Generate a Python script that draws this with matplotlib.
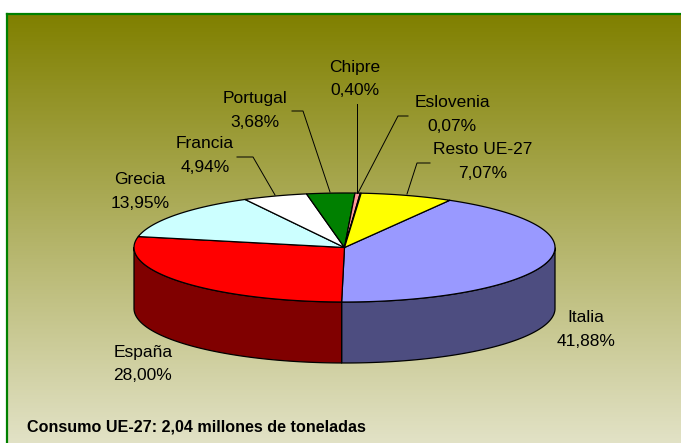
import numpy as np
import matplotlib
matplotlib.use("Agg")
import matplotlib.pyplot as plt
from matplotlib.patches import Polygon
from matplotlib.colors import to_rgb

# ---- data ----
countries = ["Italia", "España", "Grecia", "Francia", "Portugal", "Chipre", "Eslovenia", "Resto UE-27"]
shares = [41.88, 28.00, 13.95, 4.94, 3.68, 0.40, 0.07, 7.07]
share_labels = ["41,88%", "28,00%", "13,95%", "4,94%", "3,68%", "0,40%", "0,07%", "7,07%"]
colors = ["#9999FF", "#FF0000", "#CCFFFF", "#FFFFFF", "#008000", "#FF9999", "#FF9933", "#FFFF00"]
footer = "Consumo UE-27: 2,04 millones de toneladas"

W, H = 681, 443
fig = plt.figure(figsize=(W / 100, H / 100), dpi=100)
ax = fig.add_axes([0, 0, 1, 1])
ax.set_xlim(0, W)
ax.set_ylim(H, 0)
ax.axis("off")
fig.patch.set_facecolor("white")

# background gradient
top_c = np.array([128, 128, 0]) / 255
bot_c = np.array([227, 227, 200]) / 255
n = 256
t = np.linspace(0, 1, n)[:, None]
grad = (top_c[None, :] * (1 - t) + bot_c[None, :] * t)[:, None, :]
ax.imshow(grad, extent=[7, W + 5, H + 5, 14], aspect="auto", zorder=0, interpolation="bilinear")
ax.plot([7, 7], [H + 5, 14], color="#008000", lw=1.6, zorder=1, solid_capstyle="projecting")
ax.plot([7, W + 5], [14, 14], color="#008000", lw=1.6, zorder=1, solid_capstyle="projecting")
ax.set_xlim(0, W)
ax.set_ylim(H, 0)

# pie geometry
cx, cy, rx, ry, depth = 344.5, 247.5, 210.5, 54.5, 61
start = 60.0
total = sum(shares)

def pt(a, dy=0.0):
    r = np.radians(a)
    return cx + rx * np.cos(r), cy - ry * np.sin(r) + dy

bounds = []
acc = start
for v in shares:
    a1 = acc
    a2 = acc - v / total * 360.0
    bounds.append((a1, a2))
    acc = a2

# side walls
for (a1, a2), col in zip(bounds, colors):
    angs = np.linspace(a1, a2, max(4, int(abs(a1 - a2) * 2)))
    front = np.sin(np.radians(angs)) < 0
    if not front.any():
        continue
    idx = np.where(front)[0]
    runs = np.split(idx, np.where(np.diff(idx) != 1)[0] + 1)
    dark = tuple(c * 0.5 for c in to_rgb(col))
    for run in runs:
        seg = list(angs[run])
        topp = [pt(x) for x in seg]
        botp = [pt(x, depth) for x in seg[::-1]]
        ax.add_patch(Polygon(topp + botp, closed=True, facecolor=dark, edgecolor="black",
                             lw=0.9, zorder=2, joinstyle="round"))

# tops
for (a1, a2), col in zip(bounds, colors):
    angs = np.linspace(a1, a2, max(3, int(abs(a1 - a2) * 2)))
    pts = [(cx, cy)] + [pt(x) for x in angs]
    ax.add_patch(Polygon(pts, closed=True, facecolor=col, edgecolor="black", lw=0.9,
                         zorder=3, joinstyle="round"))

# labels
fs = 12.5
fam = ["Liberation Sans", "DejaVu Sans"]
label_pos = {
    "Italia": (586, 318, 341),
    "España": (143, 352, 376),
    "Grecia": (140, 180, 203),
    "Francia": (205, 144, 167),
    "Portugal": (255, 98, 122),
    "Chipre": (355, 67, 90),
    "Eslovenia": (452, 102, 126),
    "Resto UE-27": (483, 150, 174),
}
for name, lab in zip(countries, share_labels):
    x, y1, y2 = label_pos[name]
    ax.text(x, y1, name, ha="center", va="center", fontsize=fs, family=fam, color="black", zorder=5)
    ax.text(x, y2, lab, ha="center", va="center", fontsize=fs, family=fam, color="black", zorder=5)

leaders = {
    "Chipre": [(357, 104), (357, 193)],
    "Eslovenia": [(408, 116), (398, 116), (358, 193)],
    "Resto UE-27": [(430, 163), (417, 163), (407, 194)],
    "Portugal": [(292, 111), (303, 111), (330, 192)],
    "Francia": [(237, 157), (253, 157), (275, 195)],
}
for name, pts in leaders.items():
    xs, ys = zip(*pts)
    ax.plot(xs, ys, color="black", lw=0.7, zorder=4)

ax.text(27, 427, footer, ha="left", va="center", fontsize=11.6, fontweight="bold", family=fam,
        color="black", zorder=5)

fig.savefig("out.png", dpi=100, facecolor="white")
